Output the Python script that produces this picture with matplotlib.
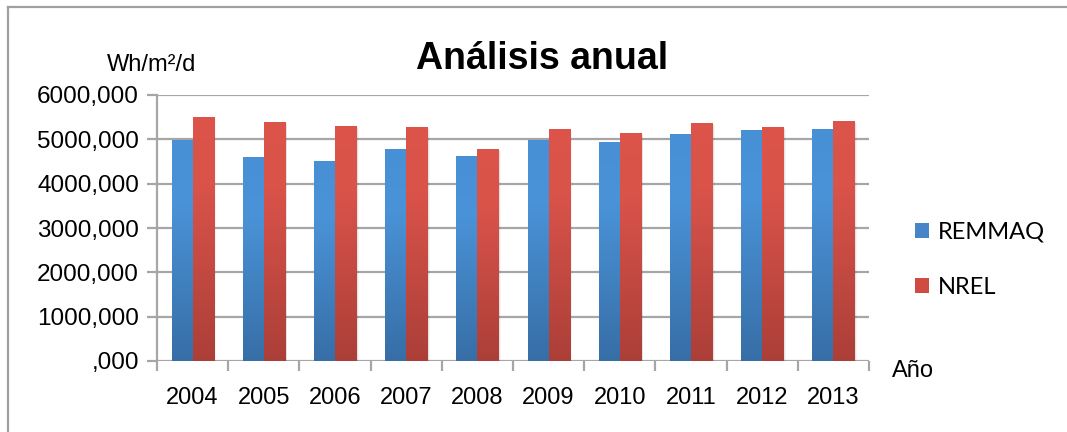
import numpy as np
import matplotlib
matplotlib.use("Agg")
import matplotlib.pyplot as plt
from matplotlib.colors import LinearSegmentedColormap
from matplotlib.patches import Patch
from matplotlib.lines import Line2D

# Annual mean daily irradiation (Wh/m2/d)
years = ["2004", "2005", "2006", "2007", "2008", "2009", "2010", "2011", "2012", "2013"]
remmaq = [4985, 4602, 4511, 4782, 4624, 4985, 4940, 5120, 5211, 5233]
nrel = [5504, 5391, 5301, 5278, 4782, 5233, 5143, 5369, 5278, 5414]
y_ticks = [0, 1000, 2000, 3000, 4000, 5000, 6000]
y_tick_labels = [",000", "1000,000", "2000,000", "3000,000", "4000,000", "5000,000", "6000,000"]

W, H = 1067, 432
fig = plt.figure(figsize=(W / 100, H / 100), dpi=100)
fig.patch.set_facecolor("white")

# outer chart frame (left and top edges)
frame_col = "#a0a0a0"
fig.add_artist(Line2D([8 / W, 8 / W], [0, 1 - 7 / H], color=frame_col, lw=1.6))
fig.add_artist(Line2D([8 / W, 1], [1 - 7 / H, 1 - 7 / H], color=frame_col, lw=1.6))

ax = fig.add_axes([157 / W, 1 - 361 / H, (869 - 157) / W, 266 / H])
ax.set_xlim(-0.5, len(years) - 0.5)
ax.set_ylim(0, 6000)

grid_col = "#a6a6a6"
for v in y_ticks:
    ax.axhline(v, color=grid_col, lw=1.6, zorder=1)

for s in ["top", "right", "bottom"]:
    ax.spines[s].set_visible(False)
ax.spines["left"].set_color(grid_col)
ax.spines["left"].set_linewidth(1.6)

label_font = "Liberation Sans"
ax.set_yticks(y_ticks)
ax.set_yticklabels(y_tick_labels, fontsize=17.5, family=label_font)
ax.tick_params(axis="y", length=7, width=1.6, color=grid_col, pad=6)

x = np.arange(len(years))
ax.set_xticks(x)
ax.set_xticklabels(years, fontsize=17, family=label_font)
ax.tick_params(axis="x", which="major", length=0, pad=19)
ax.set_xticks(np.arange(len(years) + 1) - 0.5, minor=True)
ax.tick_params(axis="x", which="minor", length=7, width=1.6, color=grid_col)

bw = 0.295
blue_cmap = LinearSegmentedColormap.from_list(
    "b", [(0, "#376ea6"), (0.72, "#4a93d8"), (1, "#4890d5")])
red_cmap = LinearSegmentedColormap.from_list(
    "r", [(0, "#ab3f38"), (0.72, "#d9534a"), (1, "#dc5449")])
grad = np.linspace(0, 1, 256).reshape(-1, 1)


def gradient_bars(xs, vals, cmap, face):
    bars = ax.bar(xs, vals, width=bw, color=face, zorder=3, linewidth=0)
    for b in bars:
        x0, y0 = b.get_x(), b.get_y()
        w, h = b.get_width(), b.get_height()
        # soft drop shadow to the right of each bar
        for k, a in enumerate([0.10, 0.07, 0.04]):
            sh = plt.Rectangle((x0 + 0.012 * (k + 1), y0), w, h - 25 * k,
                               color="#000000", alpha=a, lw=0, zorder=2)
            ax.add_patch(sh)
        im = ax.imshow(grad, extent=[x0, x0 + w, y0, y0 + h], origin="lower",
                       aspect="auto", cmap=cmap, zorder=4)
        im.set_clip_path(b)
    return bars


gradient_bars(x - bw / 2, remmaq, blue_cmap, "#4585c8")
gradient_bars(x + bw / 2, nrel, red_cmap, "#d04c43")
ax.set_xlim(-0.5, len(years) - 0.5)
ax.set_ylim(0, 6000)

fig.text(542 / W, 1 - 69 / H, "Análisis anual", ha="center", va="baseline",
         fontsize=27, fontweight="bold", family=label_font)
fig.text(152 / W, 1 - 71 / H, "Wh/m²/d", ha="center", va="baseline",
         fontsize=17, family=label_font)
fig.text(892 / W, 1 - 377 / H, "Año", ha="left", va="baseline",
         fontsize=17, family=label_font)

handles = [Patch(facecolor="#4585c8", edgecolor="none", label="REMMAQ"),
           Patch(facecolor="#d04c43", edgecolor="none", label="NREL")]
fig.legend(handles=handles, loc="upper left", bbox_to_anchor=(915 / W, 1 - 222 / H),
           frameon=False, prop={"family": "Lato", "size": 17},
           handlelength=0.6, handleheight=0.6, handletextpad=0.35,
           labelspacing=1.45, borderaxespad=0, borderpad=0)

fig.savefig("out.png", dpi=100, facecolor="white")
